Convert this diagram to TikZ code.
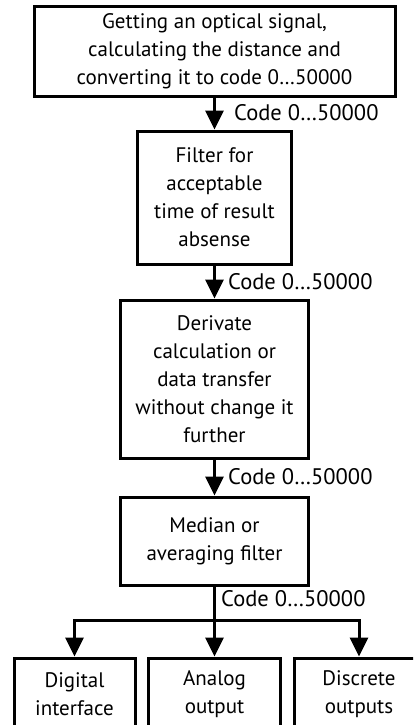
\documentclass[tikz,border=0pt]{standalone}
\usepackage{fontspec}
\setmainfont{PT Sans}
\usetikzlibrary{arrows.meta}
\begin{document}
\begin{tikzpicture}[x=1pt,y=-1pt,
  box/.style={draw,line width=3pt,inner sep=0pt,align=center,
    font=\fontsize{21}{28}\selectfont},
  lbl/.style={anchor=west,inner sep=0pt,font=\fontsize{22.5}{28}\selectfont},
  conn/.style={line width=3pt},
  arr/.style={line width=3pt,-{Triangle[length=19pt,width=18pt]}}]
\useasboundingbox (0,0) rectangle (413,725);
\clip (0,0) rectangle (413,725);
\node[box,minimum width=361pt,minimum height=89pt] (b1) at (214.5,51.5)
  {Getting an optical signal,\\calculating the distance and\\converting it to code 0…50000};
\node[box,minimum width=154pt,minimum height=133pt] (b2) at (214.5,197.5)
  {Filter for\\acceptable\\time of result\\absense};
\node[box,minimum width=188pt,minimum height=158pt] (b3) at (214.5,379)
  {Derivate\\calculation or\\data transfer\\without change it\\further};
\node[box,minimum width=188pt,minimum height=88pt] (b4) at (214.5,541)
  {Median or\\averaging filter};
\node[box,minimum width=121pt,minimum height=72pt] (b5) at (74.5,694)
  {Digital\\interface};
\node[box,minimum width=132pt,minimum height=72pt] (b6) at (214.5,694)
  {Analog\\output};
\node[box,minimum width=130pt,minimum height=72pt] (b7) at (359,694)
  {Discrete\\outputs};
\draw[arr] (b1.south) -- (b2.north);
\draw[arr] (b2.south) -- (b3.north);
\draw[arr] (b3.south) -- (b4.north);
\coordinate (j) at (214.5,620);
\draw[conn] (b4.south) -- (j);
\draw[arr] (j) -| (b5.north);
\draw[arr] (j) -| (b7.north);
\draw[arr] (j) -- (b6.north);
\node[lbl] (l1) at (234,113) {Code 0…50000};
\node[lbl] (l2) at (228,282) {Code 0…50000};
\node[lbl] (l3) at (228,477) {Code 0…50000};
\node[lbl] (l4) at (221,599) {Code 0…50000};
\end{tikzpicture}
\end{document}
